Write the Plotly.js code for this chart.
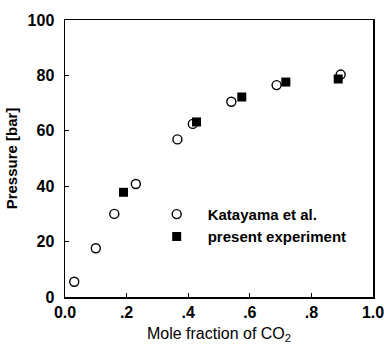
<!DOCTYPE html>
<html>
<head>
<meta charset="utf-8">
<script src="https://cdn.plot.ly/plotly-3.0.1.min.js"></script>
<style>html,body{margin:0;padding:0;background:#fff;}#chart{width:384px;height:344px;}</style>
</head>
<body>
<div id="chart"></div>
<script>
// Katayama et al. (open circles)
var katX = [0.03, 0.10, 0.16, 0.23, 0.365, 0.415, 0.54, 0.687, 0.895];
var katY = [5.5, 17.6, 30.0, 40.8, 56.9, 62.5, 70.5, 76.5, 80.3];
// present experiment (filled squares)
var expX = [0.19, 0.427, 0.574, 0.717, 0.887];
var expY = [37.8, 63.2, 72.2, 77.6, 78.7];
var xTickVals = [0, 0.2, 0.4, 0.6, 0.8, 1.0];
var xTickText = ['0.0', '.2', '.4', '.6', '.8', '1.0'];
var yTickVals = [0, 20, 40, 60, 80, 100];

var fontFam = '"Liberation Sans", Arial, sans-serif';

var traces = [
  {
    x: katX, y: katY, type: 'scatter', mode: 'markers', name: 'Katayama et al.',
    marker: {symbol: 'circle-open', size: 9, color: '#000', line: {width: 1.4, color: '#000'}},
    cliponaxis: false
  },
  {
    x: expX, y: expY, type: 'scatter', mode: 'markers', name: 'present experiment',
    marker: {symbol: 'square', size: 9, color: '#000', line: {width: 0}},
    cliponaxis: false
  }
];

var layout = {
  width: 384, height: 344,
  margin: {l: 65, r: 11, t: 20, b: 47},
  paper_bgcolor: '#fff', plot_bgcolor: '#fff',
  font: {family: fontFam, color: '#000', size: 14},
  showlegend: true,
  legend: {
    x: 0.262, y: 0.358, xanchor: 'left', yanchor: 'top',
    bgcolor: 'rgba(0,0,0,0)', borderwidth: 0,
    font: {family: fontFam, size: 15, weight: 'bold', color: '#000'},
    tracegroupgap: 0, itemwidth: 52
  },
  xaxis: {
    range: [0, 1.0], tickmode: 'array', tickvals: xTickVals, ticktext: xTickText,
    ticks: 'inside', ticklen: 4, tickwidth: 1, tickcolor: '#000',
    showline: true, linecolor: '#000', linewidth: 1.5, mirror: true,
    showgrid: false, zeroline: false, ticklabeloverflow: 'allow',
    tickfont: {family: fontFam, size: 16, weight: 'bold'},
    title: {text: 'Mole fraction of CO<sub>2</sub>', font: {family: fontFam, size: 16}, standoff: 8}
  },
  yaxis: {
    range: [0, 100], tickmode: 'array', tickvals: yTickVals,
    ticks: 'inside', ticklen: 4, tickwidth: 1, tickcolor: '#000',
    showline: true, linecolor: '#000', linewidth: 1.5, mirror: true,
    showgrid: false, zeroline: false, ticklabelstandoff: 6, ticklabeloverflow: 'allow',
    tickfont: {family: fontFam, size: 16, weight: 'bold'},
    title: {text: 'Pressure [bar]', font: {family: fontFam, size: 15, weight: 'bold'}, standoff: 6}
  }
};

Plotly.newPlot('chart', traces, layout, {displayModeBar: false, staticPlot: true});
</script>
</body>
</html>
